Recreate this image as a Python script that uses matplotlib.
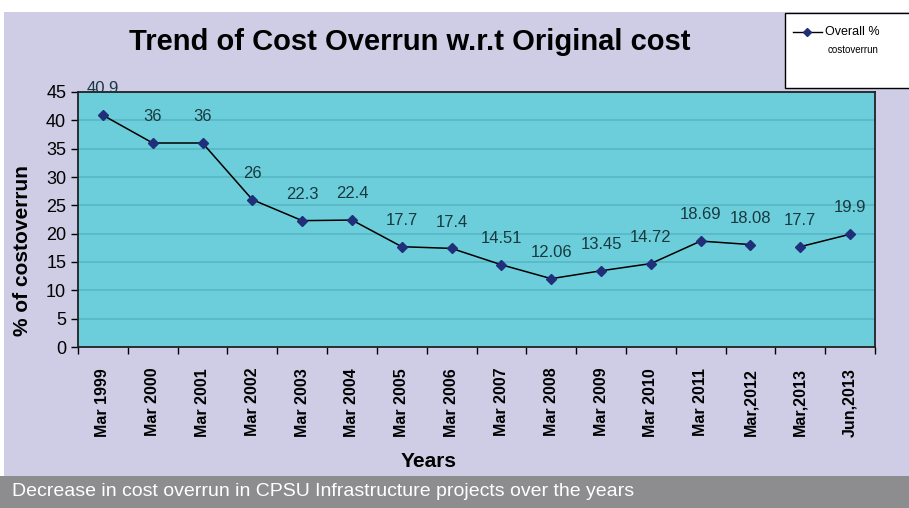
import numpy as np
import matplotlib.pyplot as plt
from matplotlib.patches import Rectangle
from matplotlib.lines import Line2D

# data
periods = ['Mar 1999', 'Mar 2000', 'Mar 2001', 'Mar 2002', 'Mar 2003', 'Mar 2004',
           'Mar 2005', 'Mar 2006', 'Mar 2007', 'Mar 2008', 'Mar 2009', 'Mar 2010',
           'Mar 2011', 'Mar,2012', 'Mar,2013', 'Jun,2013']
overrun = [40.9, 36, 36, 26, 22.3, 22.4, 17.7, 17.4, 14.51, 12.06, 13.45, 14.72,
           18.69, 18.08, 17.7, 19.9]
value_labels = ['40.9', '36', '36', '26', '22.3', '22.4', '17.7', '17.4', '14.51',
                '12.06', '13.45', '14.72', '18.69', '18.08', '17.7', '19.9']
break_after = 13   # line is not joined between Mar,2012 and Mar,2013

plt.rcParams['font.family'] = ['Liberation Sans', 'DejaVu Sans']

fig = plt.figure(figsize=(9.09, 5.08), dpi=100)
fig.patch.set_facecolor('white')

W, H = 909.0, 508.0
# lavender chart background and grey caption bar
fig.add_artist(Rectangle((4 / W, (508 - 476) / H), 1, (476 - 12) / H,
                         transform=fig.transFigure, facecolor='#cecde5', edgecolor='none', zorder=0))
fig.add_artist(Rectangle((0, 0), 1, (508 - 476) / H, transform=fig.transFigure,
                         facecolor='#8d8d8f', edgecolor='none', zorder=0))
fig.text(12 / W, (508 - 492) / H, 'Decrease in cost overrun in CPSU Infrastructure projects over the years',
         color='white', fontsize=14, va='center', ha='left')

ax = fig.add_axes([78 / W, (508 - 347) / H, 797 / W, (347 - 92) / H])
ax.set_facecolor('#6ccedb')

x = np.arange(len(periods))
for seg in (slice(0, break_after + 1), slice(break_after + 1, None)):
    ax.plot(x[seg], overrun[seg], color='black', lw=1.1,
            marker='D', ms=5, mfc='#1f2f7a', mec='#1f2f7a', zorder=3)

for xi, yi, lab in zip(x, overrun, value_labels):
    ax.annotate(lab, (xi, yi), xytext=(0, 19), textcoords='offset points',
                ha='center', va='center', fontsize=12, color='#17393f', annotation_clip=False)

ax.set_xlim(-0.5, len(periods) - 0.5)
ax.set_ylim(0, 45)
ax.set_yticks(np.arange(0, 46, 5))
ax.yaxis.grid(True, color='#58b6c4', lw=1.2)
ax.set_axisbelow(True)
ax.tick_params(axis='y', labelsize=13, direction='out', length=5, width=1, colors='black')

ax.set_xticks(x)
ax.set_xticklabels(periods, rotation=90, fontsize=11.5, fontweight='bold')
ax.tick_params(axis='x', which='major', length=0, pad=15)
ax.set_xticks(np.arange(-0.5, len(periods)), minor=True)
ax.tick_params(axis='x', which='minor', length=5, width=1, direction='out')

for s in ax.spines.values():
    s.set_color('#222222')
    s.set_linewidth(1.3)

ax.set_ylabel('% of costoverrun', fontsize=15, fontweight='bold')
ax.yaxis.set_label_coords(-0.058, 0.38)
ax.set_xlabel('Years', fontsize=15, fontweight='bold')
ax.xaxis.set_label_coords(0.44, -0.41)

fig.text(410 / W, (508 - 42) / H, 'Trend of Cost Overrun w.r.t Original cost', ha='center', va='center',
         fontsize=21, fontweight='bold')

# legend box, cut off at the right edge
fig.add_artist(Rectangle((785 / W, (508 - 88) / H), 140 / W, 75 / H, transform=fig.transFigure,
                         facecolor='white', edgecolor='black', lw=1.0, zorder=2))
fig.add_artist(Line2D([793 / W, 822 / W], [(508 - 32) / H] * 2, transform=fig.transFigure,
                      color='black', lw=1, zorder=3))
fig.add_artist(Line2D([807 / W], [(508 - 32) / H], transform=fig.transFigure,
                      lw=0, marker='D', ms=4, mfc='#1f2f7a', mec='#1f2f7a', zorder=3))
fig.text(825 / W, (508 - 32) / H, 'Overall %', fontsize=9, va='center', ha='left', zorder=4)
fig.text(828 / W, (508 - 50) / H, 'costoverrun', fontsize=7, va='center', ha='left', zorder=4)

fig.savefig('out.png', dpi=100)
